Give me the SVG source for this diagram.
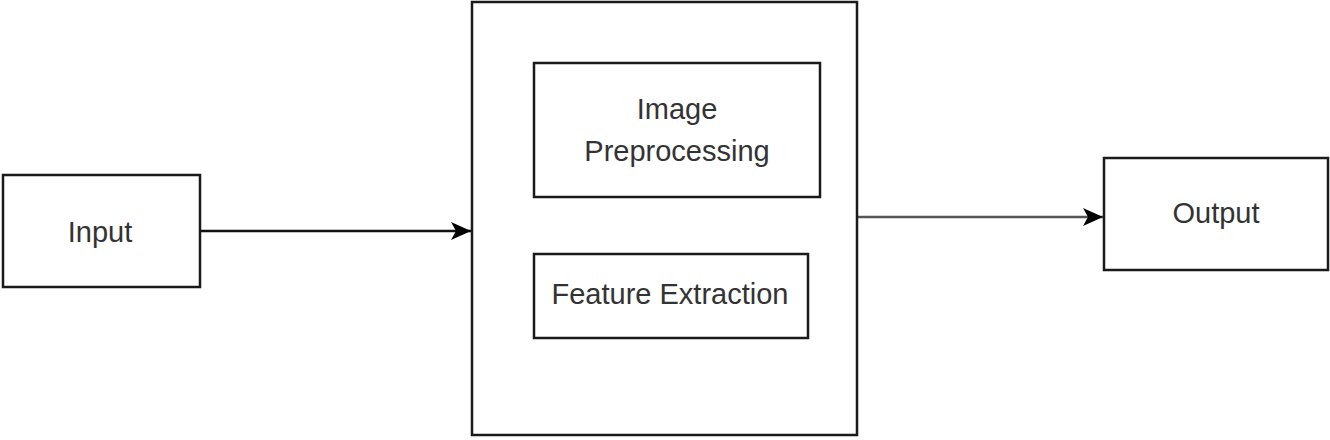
<svg xmlns="http://www.w3.org/2000/svg" width="1330" height="440" viewBox="0 0 1330 440">
<style>
.box{fill:#ffffff;stroke:#1a1a1a;stroke-width:2.5}
.lbl{font-family:"Liberation Sans",Arial,sans-serif;font-size:29px;fill:#333333;text-anchor:middle}
.edge{fill:none;stroke-width:2.5}
</style>
<defs>
<marker id="arr" markerUnits="userSpaceOnUse" markerWidth="22" markerHeight="22" viewBox="0 0 22 22" refX="21" refY="11" orient="auto">
<path d="M1,2 L21,11 L1,20 L6,11 Z" fill="#000000"/>
</marker>
</defs>
<rect x="0" y="0" width="1330" height="440" fill="#ffffff"/>
<g id="connectors">
<line class="edge" x1="201" y1="231" x2="471" y2="231" stroke="#111111" marker-end="url(#arr)"/>
<line class="edge" x1="857" y1="217" x2="1103" y2="217" stroke="#555555" marker-end="url(#arr)"/>
</g>
<g id="input">
<rect class="box" x="3" y="175" width="197" height="112"/>
<text class="lbl" x="100" y="242">Input</text>
</g>
<g id="processing">
<rect class="box" x="472" y="2" width="385" height="433" stroke-width="3"/>
</g>
<g id="image-preprocessing">
<rect class="box" x="534" y="63" width="286" height="134"/>
<text class="lbl" x="677" y="119">Image</text>
<text class="lbl" x="677" y="161">Preprocessing</text>
</g>
<g id="feature-extraction">
<rect class="box" x="534" y="254" width="274" height="84"/>
<text class="lbl" x="670" y="304">Feature Extraction</text>
</g>
<g id="output">
<rect class="box" x="1104" y="158" width="224" height="112"/>
<text class="lbl" x="1216" y="223">Output</text>
</g>
</svg>
